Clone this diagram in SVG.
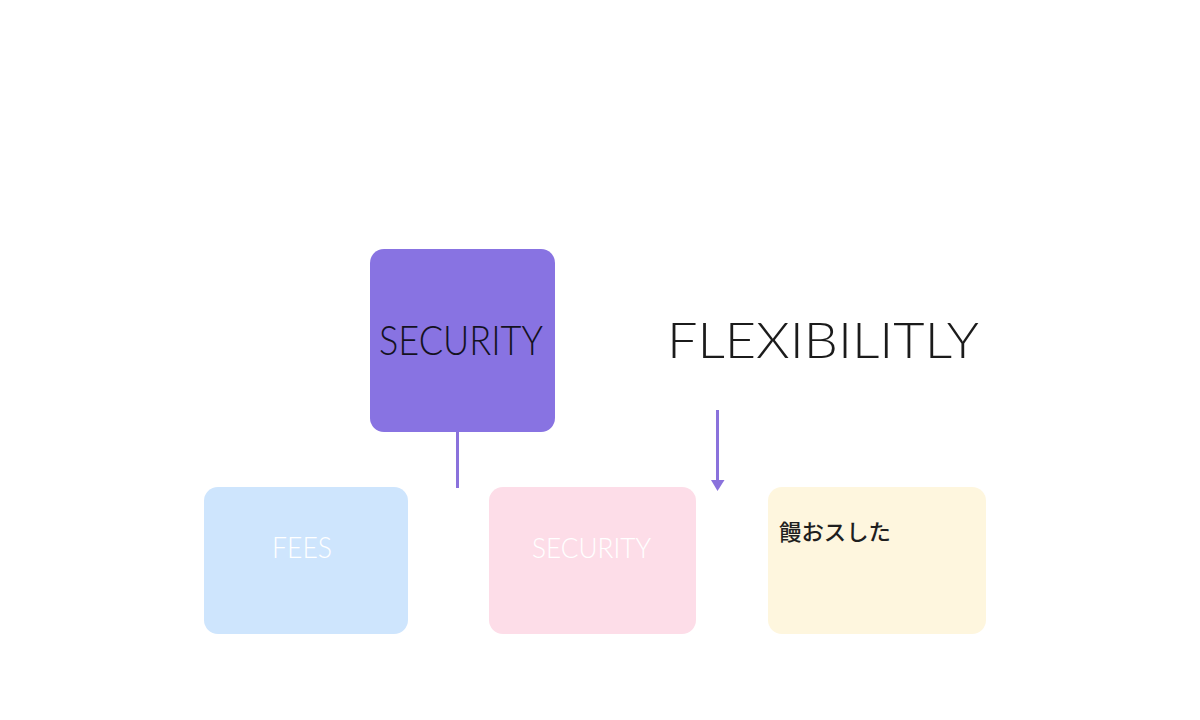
<svg xmlns="http://www.w3.org/2000/svg" width="1200" height="720" viewBox="0 0 1200 720">
<style>
text{font-family:"Lato","Noto Sans","Noto Sans CJK JP",sans-serif;font-weight:300}
.c{fill:none;stroke:#8a72dc;stroke-width:3}
</style>
<defs><marker id="a" markerUnits="userSpaceOnUse" markerWidth="11" markerHeight="14" refX="11" refY="7" orient="auto"><path d="M0 0L11 7L0 14Z" fill="#8a72dc"/></marker></defs>
<rect width="1200" height="720" fill="#fff"/>
<g id="connectors">
<path class="c" d="M457.500 431V488"/>
<path class="c" d="M717.500 410V484"/>
<path d="M711 480H724.500L717.500 491Z" fill="#8a72dc"/>
</g>
<g id="node-security-main">
<rect x="370" y="249" width="185" height="183" rx="14" fill="#8873e2"/>
<text x="379" y="355" font-size="42" fill="#14121f" textLength="164" lengthAdjust="spacingAndGlyphs">SECURITY</text>
</g>
<g id="node-flexibility">
<text x="667" y="358" font-size="50" fill="#1b1b1b" textLength="312" lengthAdjust="spacingAndGlyphs">FLEXIBILITLY</text>
</g>
<g id="node-fees">
<rect x="204" y="487" width="204" height="147" rx="14" fill="#cee5fd"/>
<text x="272" y="558" font-size="29" fill="#fff" textLength="60" lengthAdjust="spacingAndGlyphs">FEES</text>
</g>
<g id="node-security">
<rect x="489" y="487" width="207" height="147" rx="14" fill="#fddde8"/>
<text x="532" y="558" font-size="28" fill="#fff" textLength="119" lengthAdjust="spacingAndGlyphs">SECURITY</text>
</g>
<g id="node-note">
<rect x="768" y="487" width="218" height="147" rx="14" fill="#fef6de"/>
<text x="779" y="540" font-size="22" fill="#1f1f1f" style="font-weight:500" textLength="112" lengthAdjust="spacingAndGlyphs">饅おスした</text>
</g>
</svg>
